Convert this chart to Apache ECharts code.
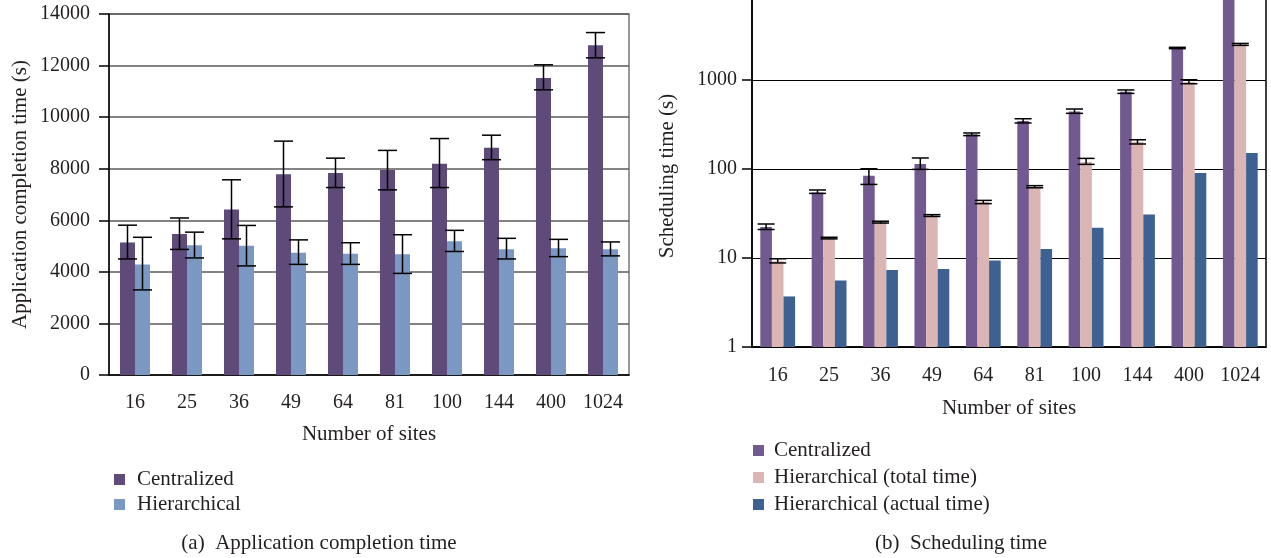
<!DOCTYPE html>
<html>
<head>
<meta charset="utf-8">
<script src="https://cdn.jsdelivr.net/npm/echarts@6/dist/echarts.min.js"></script>
<style>
html,body{margin:0;padding:0;background:#fff;overflow:hidden;}
#wrap{position:relative;width:1271px;height:558px;overflow:hidden;}
#main{position:absolute;left:0;top:-9px;width:1271px;height:567px;}
</style>
</head>
<body>
<div id="wrap"><div id="main"></div></div>
<script>
// ---- data ----
const categories = ['16', '25', '36', '49', '64', '81', '100', '144', '400', '1024'];

// (a) Application completion time (s)
const appCentral      = [5140, 5470, 6420, 7790, 7830, 7950, 8190, 8810, 11520, 12790];
const appCentralLow   = [4500, 4870, 5280, 6520, 7270, 7180, 7270, 8350, 11060, 12300];
const appCentralHigh  = [5810, 6090, 7570, 9070, 8410, 8710, 9170, 9300, 12030, 13280];
const appHier         = [4290, 5030, 5010, 4740, 4700, 4680, 5190, 4880, 4920, 4880];
const appHierLow      = [3300, 4540, 4230, 4290, 4290, 3940, 4790, 4500, 4590, 4620];
const appHierHigh     = [5340, 5540, 5800, 5240, 5130, 5440, 5610, 5300, 5260, 5160];

// (b) Scheduling time (s)
const schedCentral     = [22.3, 54.6, 84.1, 114, 245, 346, 444, 739, 2290, 9000];
const schedCentralLow  = [20.9, 53.2, 67.1, 99, 237, 329, 422, 707, 2250, 8500];
const schedCentralHigh = [24.1, 58.1, 100.7, 133, 254, 367, 472, 773, 2330, 9500];
const schedTotal       = [9.2, 16.8, 25.4, 30.1, 42.6, 63.2, 120, 201, 950, 2510];
const schedTotalLow    = [8.8, 16.4, 24.7, 29.3, 40.8, 61.5, 112.7, 191, 908, 2450];
const schedTotalHigh   = [9.8, 17.1, 25.9, 30.7, 44.4, 65, 131.6, 213, 1007, 2576];
const schedActual      = [3.7, 5.6, 7.33, 7.52, 9.4, 12.6, 21.9, 30.9, 90.2, 151];

const legendA = ['Centralized', 'Hierarchical'];
const legendB = ['Centralized', 'Hierarchical (total time)', 'Hierarchical (actual time)'];

// ---- styles ----
const FONT = "'Liberation Serif', 'Times New Roman', serif";
const TXT = '#231f20';
const cA1 = '#5E4B7A', cA2 = '#7B98C3';
const cB1 = '#725A90', cB2 = '#DBB5B3', cB3 = '#3D6191';
const SH = 9; // chart canvas is shifted up by this many pixels

function errData(lo, hi) {
  return categories.map((c, i) => [i, lo[i], hi[i]]);
}
function errRenderer(offset, capHalf) {
  return function (params, api) {
    const i = api.value(0);
    const p1 = api.coord([i, api.value(1)]);
    const p2 = api.coord([i, api.value(2)]);
    const x = p1[0] + offset;
    const st = { stroke: '#000', lineWidth: 1.5 };
    return {
      type: 'group',
      children: [
        { type: 'line', shape: { x1: x, y1: p1[1], x2: x, y2: p2[1] }, style: st },
        { type: 'line', shape: { x1: x - capHalf, y1: p1[1], x2: x + capHalf, y2: p1[1] }, style: st },
        { type: 'line', shape: { x1: x - capHalf, y1: p2[1], x2: x + capHalf, y2: p2[1] }, style: st }
      ]
    };
  };
}
const plain = v => String(v);

const BW_A = 15, BW_B = 11.6;

const chart = echarts.init(document.getElementById('main'));
const option = {
  animation: false,
  backgroundColor: '#fff',
  textStyle: { fontFamily: FONT, color: TXT },
  grid: [
    { left: 109, right: 642, top: 14 + SH, bottom: 183, outerBoundsMode: 'none', containLabel: false, show: true, borderColor: '#777', borderWidth: 1.5, backgroundColor: 'transparent' },
    { left: 752, right: 5, top: 0, bottom: 211, outerBoundsMode: 'none', containLabel: false, show: true, borderColor: '#000', borderWidth: 1.5, backgroundColor: 'transparent' }
  ],
  xAxis: [
    {
      gridIndex: 0, type: 'category', data: categories,
      axisLine: { lineStyle: { color: '#000', width: 1.5 } },
      axisTick: { length: 9, lineStyle: { color: '#000', width: 1.5 } },
      axisLabel: { interval: 0, fontFamily: FONT, fontSize: 20, color: TXT, margin: 18 },
      name: 'Number of sites', nameLocation: 'middle', nameGap: 49,
      nameTextStyle: { fontFamily: FONT, fontSize: 21, color: TXT }
    },
    {
      gridIndex: 1, type: 'category', data: categories,
      axisLine: { lineStyle: { color: '#000', width: 1.5 } },
      axisTick: { length: 9, lineStyle: { color: '#000', width: 1.5 } },
      axisLabel: { interval: 0, fontFamily: FONT, fontSize: 20, color: TXT, margin: 19 },
      name: 'Number of sites', nameLocation: 'middle', nameGap: 51,
      nameTextStyle: { fontFamily: FONT, fontSize: 21, color: TXT }
    }
  ],
  yAxis: [
    {
      gridIndex: 0, type: 'value', min: 0, max: 14000, interval: 2000,
      axisLine: { show: true, lineStyle: { color: '#000', width: 1.5 } },
      axisTick: { show: true, length: 10, lineStyle: { color: '#000', width: 1.5 } },
      axisLabel: { fontFamily: FONT, fontSize: 20, color: TXT, margin: 19, formatter: plain },
      splitLine: { lineStyle: { color: '#5a5a5a', width: 1.5 } },
      name: 'Application completion time (s)', nameLocation: 'middle', nameGap: 78,
      nameTextStyle: { fontFamily: FONT, fontSize: 21, color: TXT }
    },
    {
      gridIndex: 1, type: 'log', logBase: 10, min: 1, max: 10000,
      axisLine: { show: true, lineStyle: { color: '#000', width: 1.5 } },
      axisTick: { show: true, length: 10, lineStyle: { color: '#000', width: 1.5 } },
      axisLabel: { fontFamily: FONT, fontSize: 20, color: TXT, margin: 15, formatter: plain },
      splitLine: { lineStyle: { color: '#000', width: 1.2 } },
      minorTick: { show: false }
    }
  ],
  legend: [
    {
      orient: 'vertical', left: 109, top: 464 + SH, itemGap: 4, itemWidth: 11, itemHeight: 11,
      icon: 'rect', selectedMode: false,
      textStyle: { fontFamily: FONT, fontSize: 21, color: TXT, lineHeight: 20, padding: [0, 0, 0, 7] },
      data: [
        { name: legendA[0], itemStyle: { color: cA1 } },
        { name: legendA[1], itemStyle: { color: cA2 } }
      ]
    },
    {
      orient: 'vertical', left: 748, top: 435 + SH, itemGap: 6, itemWidth: 11, itemHeight: 11,
      icon: 'rect', selectedMode: false,
      textStyle: { fontFamily: FONT, fontSize: 21, color: TXT, lineHeight: 20, padding: [0, 0, 0, 5] },
      data: [
        { name: legendB[0], itemStyle: { color: cB1 } },
        { name: legendB[1], itemStyle: { color: cB2 } },
        { name: legendB[2], itemStyle: { color: cB3 } }
      ]
    }
  ],
  graphic: [
    { type: 'text', x: 667, y: 176 + SH, rotation: Math.PI / 2, style: { text: 'Scheduling time (s)', font: "21px " + FONT, fill: TXT, textAlign: 'center', textVerticalAlign: 'middle' } },
    { type: 'text', x: 319, y: 543 + SH, style: { text: '(a)  Application completion time', font: "21px " + FONT, fill: TXT, textAlign: 'center', textVerticalAlign: 'middle' } },
    { type: 'text', x: 961, y: 543 + SH, style: { text: '(b)  Scheduling time', font: "21px " + FONT, fill: TXT, textAlign: 'center', textVerticalAlign: 'middle' } }
  ],
  series: [
    { name: legendA[0], type: 'bar', xAxisIndex: 0, yAxisIndex: 0, data: appCentral, barWidth: BW_A, barGap: '0%', itemStyle: { color: cA1 } },
    { name: legendA[1], type: 'bar', xAxisIndex: 0, yAxisIndex: 0, data: appHier, barWidth: BW_A, barGap: '0%', itemStyle: { color: cA2 } },
    { name: 'errA1', type: 'custom', xAxisIndex: 0, yAxisIndex: 0, z: 5, data: errData(appCentralLow, appCentralHigh), encode: { x: 0, y: [1, 2] }, renderItem: errRenderer(-BW_A / 2, 9.5) },
    { name: 'errA2', type: 'custom', xAxisIndex: 0, yAxisIndex: 0, z: 5, data: errData(appHierLow, appHierHigh), encode: { x: 0, y: [1, 2] }, renderItem: errRenderer(BW_A / 2, 9.5) },

    { name: legendB[0], type: 'bar', xAxisIndex: 1, yAxisIndex: 1, data: schedCentral, barWidth: BW_B, barGap: '0%', itemStyle: { color: cB1 } },
    { name: legendB[1], type: 'bar', xAxisIndex: 1, yAxisIndex: 1, data: schedTotal, barWidth: BW_B, barGap: '0%', itemStyle: { color: cB2 } },
    { name: legendB[2], type: 'bar', xAxisIndex: 1, yAxisIndex: 1, data: schedActual, barWidth: BW_B, barGap: '0%', itemStyle: { color: cB3 } },
    { name: 'errB1', type: 'custom', xAxisIndex: 1, yAxisIndex: 1, z: 5, data: errData(schedCentralLow, schedCentralHigh), encode: { x: 0, y: [1, 2] }, renderItem: errRenderer(-BW_B, 8.5) },
    { name: 'errB2', type: 'custom', xAxisIndex: 1, yAxisIndex: 1, z: 5, data: errData(schedTotalLow, schedTotalHigh), encode: { x: 0, y: [1, 2] }, renderItem: errRenderer(0, 8.5) }
  ]
};
chart.setOption(option);
</script>
</body>
</html>
